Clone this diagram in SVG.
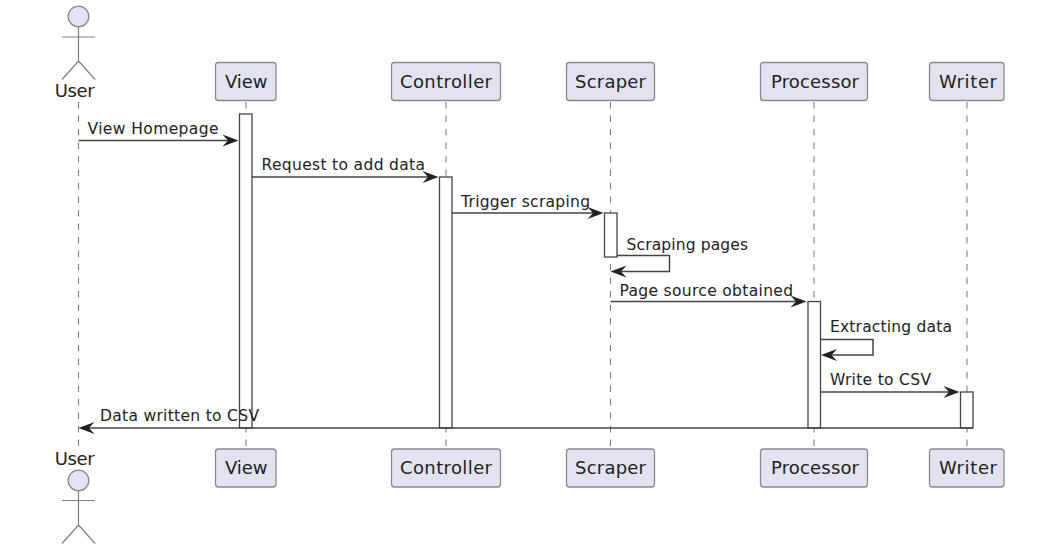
<svg xmlns="http://www.w3.org/2000/svg" width="1056" height="546" viewBox="0 0 1056 546">
<style>
text{font-family:"DejaVu Sans",sans-serif;fill:#222}
.m{font-size:15.500px}
.p{font-size:18px}
.life{stroke:#808080;stroke-width:1.100;stroke-dasharray:6.500 7;fill:none}
.box{fill:#e2e2f0;stroke:#8a8a8a;stroke-width:1.300}
.act{fill:#fff;stroke:#444;stroke-width:1.300}
.line{stroke:#444;stroke-width:1.500;fill:none}
.head{fill:#222;stroke:none}
.stick{stroke:#808080;stroke-width:1.200;fill:none}
</style>
<rect width="1056" height="546" fill="#fff"/>
<g id="lifelines">
<path class="life" d="M78.500 102V449"/><path class="life" d="M246 102V449"/><path class="life" d="M446 102V449"/><path class="life" d="M610.500 102V449"/><path class="life" d="M814 102V449"/><path class="life" d="M967 102V449"/>
</g>
<g id="user-top"><circle class="box" cx="78.500" cy="16.500" r="10.300"/><path class="stick" d="M78.500 27V61M62 37H95M62 79.500L78.500 61L95 79.500"/><text class="p" x="54.700" y="97" textLength="40" lengthAdjust="spacing">User</text></g>
<g id="user-bottom"><circle class="box" cx="78.500" cy="480.500" r="10.300"/><path class="stick" d="M78.500 491V525M62 500.500H95M62 543.500L78.500 525L95 543.500"/><text class="p" x="54.700" y="464.500" textLength="40" lengthAdjust="spacing">User</text></g>
<g id="view-top"><rect class="box" x="215.500" y="62.500" width="60.500" height="38" rx="3"/><text class="p" x="225" y="87.500" textLength="42.500" lengthAdjust="spacing">View</text></g>
<g id="controller-top"><rect class="box" x="391.500" y="62.500" width="109" height="38" rx="3"/><text class="p" x="400" y="87.500" textLength="92" lengthAdjust="spacing">Controller</text></g>
<g id="scraper-top"><rect class="box" x="566.500" y="62.500" width="88" height="38" rx="3"/><text class="p" x="575" y="87.500" textLength="71" lengthAdjust="spacing">Scraper</text></g>
<g id="processor-top"><rect class="box" x="760.500" y="62.500" width="107" height="38" rx="3"/><text class="p" x="771" y="87.500" textLength="88" lengthAdjust="spacing">Processor</text></g>
<g id="writer-top"><rect class="box" x="929.500" y="62.500" width="74.500" height="38" rx="3"/><text class="p" x="939" y="87.500" textLength="58" lengthAdjust="spacing">Writer</text></g>
<g id="view-bottom"><rect class="box" x="215.500" y="449" width="60.500" height="38" rx="3"/><text class="p" x="225" y="473.500" textLength="42.500" lengthAdjust="spacing">View</text></g>
<g id="controller-bottom"><rect class="box" x="391.500" y="449" width="109" height="38" rx="3"/><text class="p" x="400" y="473.500" textLength="92" lengthAdjust="spacing">Controller</text></g>
<g id="scraper-bottom"><rect class="box" x="566.500" y="449" width="88" height="38" rx="3"/><text class="p" x="575" y="473.500" textLength="71" lengthAdjust="spacing">Scraper</text></g>
<g id="processor-bottom"><rect class="box" x="760.500" y="449" width="107" height="38" rx="3"/><text class="p" x="771" y="473.500" textLength="88" lengthAdjust="spacing">Processor</text></g>
<g id="writer-bottom"><rect class="box" x="929.500" y="449" width="74.500" height="38" rx="3"/><text class="p" x="939" y="473.500" textLength="58" lengthAdjust="spacing">Writer</text></g>
<g id="activations">
<rect class="act" x="239.500" y="114" width="12.500" height="314"/><rect class="act" x="439.500" y="177" width="12.500" height="251"/><rect class="act" x="604.500" y="213" width="12.500" height="44"/><rect class="act" x="808" y="301.500" width="12.500" height="126.500"/><rect class="act" x="960.500" y="392" width="12.500" height="36"/>
</g>
<g id="connectors">
<path class="line" d="M78.500 140.500H232"/><path class="head" d="M238.500 140.500L222.500 134.500L228 140.500L222.500 146.500Z"/>
<path class="line" d="M252 177H432"/><path class="head" d="M438.500 177L422.500 171L428 177L422.500 183Z"/>
<path class="line" d="M452 213H597"/><path class="head" d="M603.500 213L587.500 207L593 213L587.500 219Z"/>
<path class="line" d="M617 255.500H669.500V271.500H617"/><path class="head" d="M610.500 271.500L626.500 265.500L621 271.500L626.500 277.500Z"/>
<path class="line" d="M610.500 301.500H800"/><path class="head" d="M806.500 301.500L790.500 295.500L796 301.500L790.500 307.500Z"/>
<path class="line" d="M820.500 339.500H873V355H827"/><path class="head" d="M821 355L837 349L831.500 355L837 361Z"/>
<path class="line" d="M820.500 392H953"/><path class="head" d="M959.500 392L943.500 386L949 392L943.500 398Z"/>
<path class="line" d="M973 428H85"/><path class="head" d="M78.500 428L94.500 422L89 428L94.500 434Z"/>
</g>
<g id="labels">
<text class="m" x="87.500" y="133.500" textLength="131" lengthAdjust="spacing">View Homepage</text>
<text class="m" x="261.500" y="170" textLength="163.500" lengthAdjust="spacing">Request to add data</text>
<text class="m" x="461" y="206.500" textLength="129" lengthAdjust="spacing">Trigger scraping</text>
<text class="m" x="626.500" y="249.500" textLength="121.500" lengthAdjust="spacing">Scraping pages</text>
<text class="m" x="619.500" y="295.500" textLength="173.500" lengthAdjust="spacing">Page source obtained</text>
<text class="m" x="830" y="332" textLength="122" lengthAdjust="spacing">Extracting data</text>
<text class="m" x="830" y="384.500" textLength="101" lengthAdjust="spacing">Write to CSV</text>
<text class="m" x="100" y="421" textLength="159" lengthAdjust="spacing">Data written to CSV</text>
</g>
</svg>
